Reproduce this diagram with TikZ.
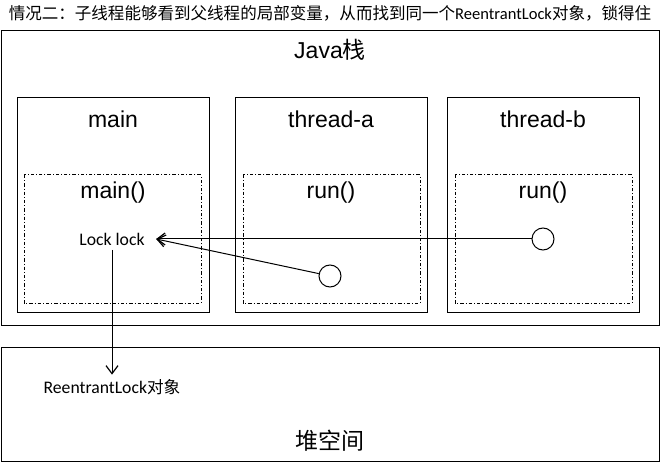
\documentclass[tikz,border=0pt]{standalone}
\usepackage{fontspec}
\setmainfont{Liberation Sans}
\newfontfamily\cjkfont{Noto Sans CJK SC}
\newfontfamily\calfont{Carlito}
\usetikzlibrary{arrows.meta}

\begin{document}
\begin{tikzpicture}[x=0.75pt,y=-0.75pt,
    box/.style={draw,line width=0.75pt},
    frame/.style={draw,line width=0.75pt,
        dash pattern=on 2.5pt off 1.5pt on 0.75pt off 1.5pt},
    big/.style={font=\fontsize{17.25}{20}\selectfont,inner sep=0pt},
    small/.style={font=\calfont\fontsize{13.25}{15}\selectfont},
    ring/.style={draw,circle,line width=0.75pt,minimum size=16.5pt,
        inner sep=0pt},
    link/.style={line width=0.75pt,
        -{Straight Barb[length=6pt,width=9pt,line width=0.9pt]}}]
    \useasboundingbox (0,0) rectangle (660,463);

    % title
    \node[font=\fontsize{12.4}{14}\selectfont] (title) at (330,13)
        {{\cjkfont 情况二：子线程能够看到父线程的局部变量，从而找到同一个}{\calfont ReentrantLock}{\cjkfont 对象，锁得住}};

    % Java stack
    \draw[box] (1,31) rectangle (659,325);
    \node[big] (stack) at (330,50) {Java{\cjkfont 栈}};

    \draw[box] (17,98) rectangle (209,312);
    \draw[box] (235,98) rectangle (427,312);
    \draw[box] (447,98) rectangle (639,312);
    \node[big] (main) at (113,119) {main};
    \node[big] (ta) at (331,119) {thread-a};
    \node[big] (tb) at (543,119) {thread-b};

    \draw[frame] (24,175) rectangle (201,303);
    \draw[frame] (243,175) rectangle (420,303);
    \draw[frame] (455,175) rectangle (632,303);
    \node[big] (mainm) at (113,193) {main()};
    \node[big] (runa) at (331,193) {run()};
    \node[big] (runb) at (543,193) {run()};

    \node[small,inner xsep=8.5pt] (lock) at (112,239) {Lock lock};
    \node[ring] (ca) at (330,276) {};
    \node[ring] (cb) at (543,239) {};

    % heap
    \draw[box] (1,347) rectangle (659,461);
    \node[small] (obj) at (112,387)
        {ReentrantLock{\cjkfont\fontsize{12.5}{15}\selectfont 对象}};
    \node[big] (heap) at (330,441) {\cjkfont 堆空间};

    \draw[link] (cb) -- (lock.east);
    \draw[link] (ca) -- (lock.east);
    \draw[link] (lock) -- (obj);

\end{tikzpicture}
\end{document}
